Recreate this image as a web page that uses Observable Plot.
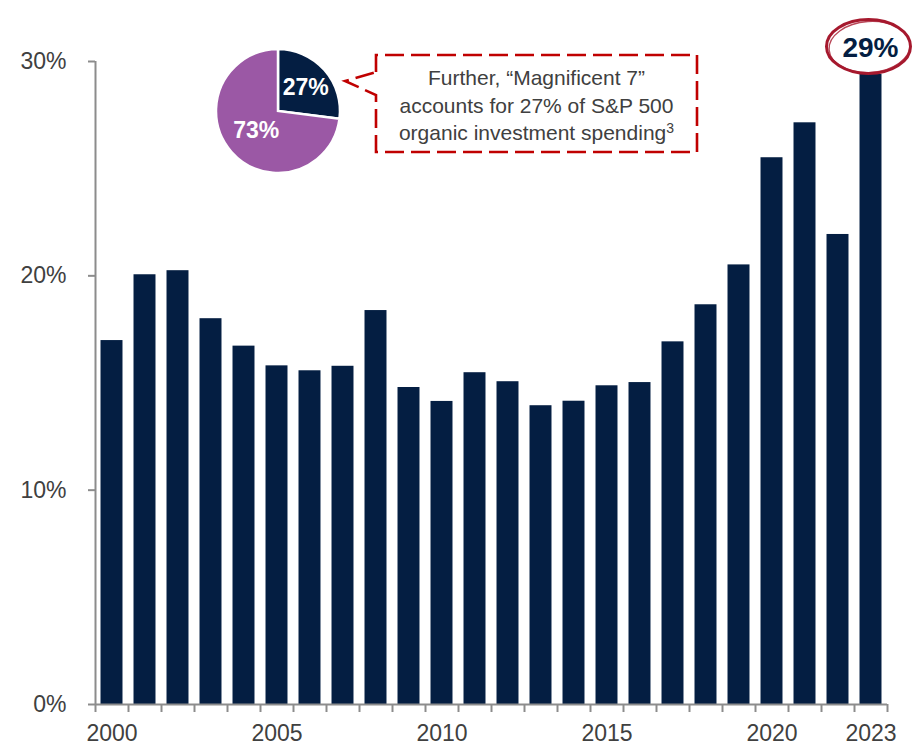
<!DOCTYPE html>
<html>
<head>
<meta charset="utf-8">
<script src="https://cdn.jsdelivr.net/npm/d3@7"></script>
<script src="https://cdn.jsdelivr.net/npm/@observablehq/plot@0.6"></script>
<style>
  html, body { margin: 0; padding: 0; background: #ffffff; }
  #chart svg { display: block; }
</style>
</head>
<body>
<div id="chart"></div>
<script>
// ---- Data ----
const years = [2000, 2001, 2002, 2003, 2004, 2005, 2006, 2007, 2008, 2009, 2010, 2011,
               2012, 2013, 2014, 2015, 2016, 2017, 2018, 2019, 2020, 2021, 2022, 2023];
const shares = [16.98, 20.05, 20.24, 18.0, 16.72, 15.8, 15.57, 15.78, 18.38, 14.79, 14.14, 15.48,
                15.06, 13.94, 14.15, 14.87, 15.02, 16.92, 18.65, 20.51, 25.51, 27.14, 21.93, 29.4];
const yTicks = [0, 10, 20, 30];
const xLabelYears = [2000, 2005, 2010, 2015, 2020, 2023];
const pieLabels = ["27%", "73%"];
const pieValues = [27, 73];
const calloutLines = ["Further, \u201cMagnificent 7\u201d", "accounts for 27% of S&P 500", "organic investment spending"];
const calloutSup = "3";
const highlightYear = 2023;
const highlightLabel = "29%";

// ---- Styles ----
const NAVY = "#041E42";
const PURPLE = "#9B58A5";
const AXIS = "#8c8c8c";
const TEXT = "#404040";
const RED = "#C00000";
const CRIMSON = "#A6192E";
const FONT = "'Liberation Sans', Arial, sans-serif";

const data = years.map((year, i) => ({year, value: shares[i]}));
const boundaries = d3.range(years[0] - 0.5, years[years.length - 1] + 1, 1);

const plot = Plot.plot({
  width: 919,
  height: 752,
  marginLeft: 95,
  marginRight: 32,
  marginTop: 61,
  marginBottom: 48,
  style: {fontFamily: FONT, background: "#ffffff", overflow: "visible"},
  x: {type: "linear", domain: [years[0] - 0.5, years[years.length - 1] + 0.5]},
  y: {domain: [0, 30]},
  marks: [
    Plot.rectY(data, {x1: d => d.year - 0.333, x2: d => d.year + 0.333, y: "value", fill: NAVY}),
    Plot.axisY({ticks: yTicks, tickFormat: d => d + "%", tickSize: 7, tickPadding: 22,
                fontSize: 23, fill: TEXT, stroke: AXIS, strokeWidth: 2, label: null}),
    Plot.axisX({ticks: boundaries, tickFormat: () => "", tickSize: 8, stroke: AXIS, strokeWidth: 2, label: null}),
    Plot.axisX({ticks: xLabelYears, tickFormat: d => String(d), tickSize: 0, tickPadding: 20,
                fontSize: 23, fill: TEXT, label: null}),
    Plot.ruleY([0], {stroke: AXIS, strokeWidth: 2}),
    Plot.ruleX([years[0] - 0.5], {y1: 0, y2: 30, stroke: AXIS, strokeWidth: 2})
  ]
});
document.getElementById("chart").appendChild(plot);

const svg = d3.select(plot);
const xs = plot.scale("x");

// ---- Pie inset ----
const pieCx = 278, pieCy = 111, pieR = 62;
const labelRadii = [37, 29];
const pieG = svg.append("g").attr("transform", `translate(${pieCx},${pieCy})`);
const arcs = d3.pie().sort(null).startAngle(0).endAngle(2 * Math.PI)(pieValues);
const arcGen = d3.arc().innerRadius(0).outerRadius(pieR);
pieG.selectAll("path").data(arcs).join("path")
  .attr("d", arcGen)
  .attr("fill", (d, i) => i === 0 ? NAVY : PURPLE)
  .attr("stroke", "#ffffff").attr("stroke-width", 2.5);
pieG.selectAll("text").data(arcs).join("text")
  .attr("transform", (d, i) => `translate(${d3.arc().innerRadius(labelRadii[i]).outerRadius(labelRadii[i]).centroid(d)})`)
  .attr("text-anchor", "middle").attr("dominant-baseline", "central")
  .attr("font-family", FONT).attr("font-weight", "bold").attr("font-size", 23)
  .attr("fill", "#ffffff")
  .text((d, i) => pieLabels[i]);

// ---- Callout box ----
const bx0 = 376, bx1 = 697, by0 = 55, by1 = 152;
const notchTop = 72, notchBot = 95, tipX = 345, tipY = 81;
svg.append("path")
  .attr("d", `M${bx0},${notchTop} L${bx0},${by0} L${bx1},${by0} L${bx1},${by1} L${bx0},${by1} L${bx0},${notchBot} L${tipX},${tipY} Z`)
  .attr("fill", "#ffffff").attr("stroke", RED).attr("stroke-width", 2.6)
  .attr("stroke-dasharray", "19,7");
const cText = svg.append("g").attr("font-family", FONT).attr("font-size", 21).attr("fill", TEXT)
  .attr("text-anchor", "middle");
calloutLines.forEach((line, i) => {
  const t = cText.append("text").attr("x", (bx0 + bx1) / 2).attr("y", 85 + i * 27.5);
  t.append("tspan").text(line);
  if (i === calloutLines.length - 1) {
    t.append("tspan").attr("font-size", 14).attr("dy", -7).text(calloutSup);
  }
});

// ---- Highlight ellipse on last bar ----
const hx = xs.apply(highlightYear) - 2;
const hy = 46.5;
const hl = svg.append("g");
hl.append("ellipse").attr("cx", hx).attr("cy", hy).attr("rx", 42).attr("ry", 27)
  .attr("fill", "#ffffff").attr("stroke", CRIMSON).attr("stroke-width", 3);
hl.append("ellipse").attr("cx", hx + 1).attr("cy", hy + 0.5).attr("rx", 40.5).attr("ry", 25.5)
  .attr("transform", `rotate(-4 ${hx} ${hy})`)
  .attr("fill", "none").attr("stroke", CRIMSON).attr("stroke-width", 1.3).attr("opacity", 0.8);
hl.append("text").attr("x", hx + 2).attr("y", hy + 1)
  .attr("text-anchor", "middle").attr("dominant-baseline", "central")
  .attr("font-family", FONT).attr("font-weight", "bold").attr("font-size", 28)
  .attr("fill", NAVY).text(highlightLabel);
</script>
</body>
</html>
